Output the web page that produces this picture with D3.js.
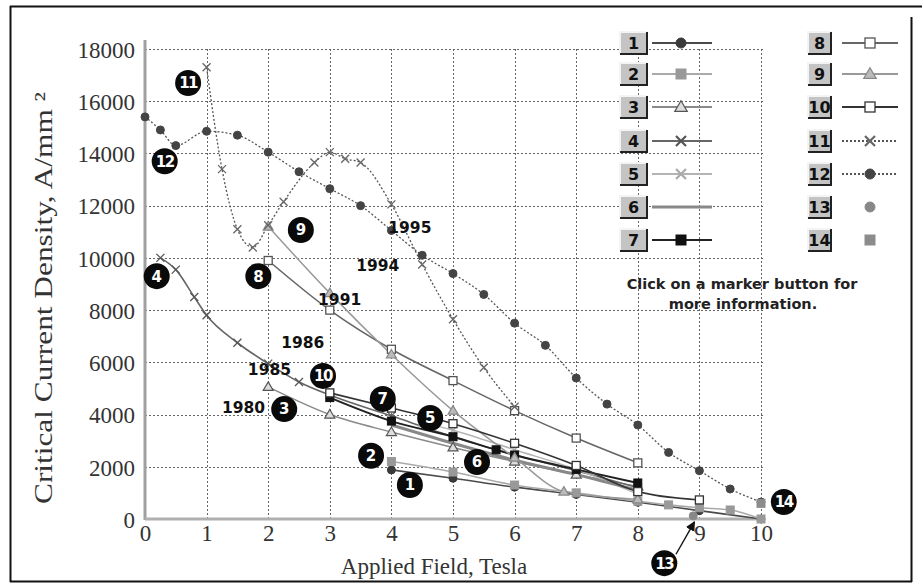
<!DOCTYPE html>
<html>
<head>
<style>
  body { margin: 0; background: #fff; }
  svg text { font-family: "Liberation Serif", "Times New Roman", serif; }
  .tick { font-size: 23px; fill: #333; }
  .title { font-size: 23px; fill: #333; }
  .year { font-family: "DejaVu Sans", sans-serif; font-weight: bold; font-size: 15.5px; fill: #111; }
  .note { font-family: "DejaVu Sans", sans-serif; font-weight: bold; font-size: 14.5px; fill: #222; }
  .btn { font-family: "DejaVu Sans", sans-serif; font-weight: bold; font-size: 16px; fill: #111; }
  .badge { font-family: "DejaVu Sans", sans-serif; font-weight: bold; font-size: 15px; fill: #fff; }
</style>
</head>
<body>
<div id="chart"></div>
<script src="https://cdnjs.cloudflare.com/ajax/libs/d3/7.8.5/d3.min.js"></script>
<script>
// tick values
const xTicks = [0, 1, 2, 3, 4, 5, 6, 7, 8, 9, 10];
const yTicks = [0, 2000, 4000, 6000, 8000, 10000, 12000, 14000, 16000, 18000];

// series values: [field (T), Jc (A/mm2)]
const series1 = [[4, 1880], [5, 1560], [6, 1220], [7, 940], [8, 640], [9, 320], [10, 0]];
const series2 = [[4, 2200], [5, 1800], [6, 1300], [7, 1000], [8, 680], [8.5, 540], [9, 430], [9.5, 345], [10, 0]];
const series3 = [[2, 5060], [3, 4000], [4, 3330], [5, 2740], [6, 2200], [7, 1700], [8, 1250]];
const series4 = [[0.25, 10000], [0.5, 9550], [0.8, 8500], [1, 7800], [1.5, 6750], [2, 5950], [2.5, 5250], [3, 4750], [4, 3950], [5, 3150], [6, 2450], [7, 1850], [8, 1200]];
const series5 = [[4.5, 3700], [5, 3400], [6, 2650], [7, 1900], [8, 950]];
const series6 = [[4, 3600], [5, 2900], [6, 2250], [7, 1700], [8, 1100]];
const series7 = [[3, 4650], [4, 3750], [5, 3150], [5.7, 2650], [6, 2450], [7, 1900], [8, 1380]];
const series8 = [[2, 9900], [3, 8000], [4, 6500], [5, 5300], [6, 4150], [7, 3100], [8, 2150]];
const series9 = [[2, 11200], [3, 8650], [4, 6300], [5, 4150], [6, 2350], [6.8, 1050], [8, 750]];
const series10 = [[3, 4830], [4, 4250], [5, 3650], [6, 2900], [7, 2050], [8, 1050], [9, 730]];
const series11 = [[1, 17300], [1.25, 13400], [1.5, 11100], [1.75, 10400], [2, 11250], [2.25, 12150], [2.75, 13650], [3, 14050], [3.25, 13800], [3.5, 13650], [4, 12050], [4.5, 9750], [5, 7650], [5.5, 5800], [6, 4300]];
const series12 = [[0, 15400], [0.25, 14900], [0.5, 14300], [1, 14850], [1.5, 14700], [2, 14050], [2.5, 13300], [3, 12650], [3.5, 12000], [4, 11050], [4.5, 10100], [5, 9400], [5.5, 8600], [6, 7500], [6.5, 6650], [7, 5400], [7.5, 4400], [8, 3600], [8.5, 2550], [9, 1850], [9.5, 1150], [10, 650]];
const series13 = [[8.9, 120]];
const series14 = [[10, 600]];

// numbered badges: [number, field, Jc]
const badges = [[1, 4.3, 1300], [2, 3.67, 2420], [3, 2.26, 4210], [4, 0.19, 9300], [5, 4.63, 3870], [6, 5.39, 2180],
  [7, 3.86, 4600], [8, 1.84, 9300], [9, 2.53, 11070], [10, 2.89, 5480], [11, 0.7, 16700], [12, 0.32, 13700],
  [13, 8.43, -1690], [14, 10.37, 650]];

// year notes: [text, field, Jc]
const years = [["1995", 4.3, 11150], ["1994", 3.78, 9700], ["1991", 3.16, 8400], ["1986", 2.56, 6750], ["1985", 2.02, 5700], ["1980", 1.6, 4250]];

const seriesList = [
  { id: 1, data: series1, stroke: "#4a4a4a", width: 1.6, marker: "circle", fill: "#3a3a3a", mstroke: "#3a3a3a" },
  { id: 2, data: series2, stroke: "#aaa", width: 1.6, marker: "square", fill: "#999", mstroke: "#999" },
  { id: 3, data: series3, stroke: "#8a8a8a", width: 1.5, marker: "triangle", fill: "#ddd", mstroke: "#555" },
  { id: 4, data: series4, stroke: "#666", width: 1.6, marker: "x", fill: "none", mstroke: "#555" },
  { id: 5, data: series5, stroke: "#b4b4b4", width: 1.5, marker: "x", fill: "none", mstroke: "#aaa" },
  { id: 6, data: series6, stroke: "#888", width: 3, marker: null },
  { id: 7, data: series7, stroke: "#222", width: 2, marker: "square", fill: "#111", mstroke: "#111" },
  { id: 8, data: series8, stroke: "#666", width: 1.6, marker: "squareOpen", fill: "#fff", mstroke: "#555" },
  { id: 9, data: series9, stroke: "#999", width: 1.5, marker: "triangle", fill: "#bbb", mstroke: "#888" },
  { id: 10, data: series10, stroke: "#333", width: 1.6, marker: "squareOpen", fill: "#fff", mstroke: "#333" },
  { id: 11, data: series11, stroke: "#555", width: 1.3, dash: "2,2", marker: "x", fill: "none", mstroke: "#666" },
  { id: 12, data: series12, stroke: "#555", width: 1.3, dash: "2,2", marker: "circle", fill: "#444", mstroke: "#444" },
  { id: 13, data: series13, stroke: null, marker: "circle", fill: "#888", mstroke: "#888" },
  { id: 14, data: series14, stroke: null, marker: "square", fill: "#8c8c8c", mstroke: "#8c8c8c" }
];

const W = 922, H = 586;
const svg = d3.select("#chart").append("svg").attr("width", W).attr("height", H);

// outer frame
svg.append("line").attr("x1", 10).attr("x2", 922).attr("y1", 6.5).attr("y2", 6.5).attr("stroke", "#111").attr("stroke-width", 2);
svg.append("line").attr("x1", 10.5).attr("x2", 10.5).attr("y1", 6).attr("y2", 582).attr("stroke", "#111").attr("stroke-width", 2);
svg.append("line").attr("x1", 911.5).attr("x2", 911.5).attr("y1", 17).attr("y2", 582).attr("stroke", "#111").attr("stroke-width", 2);
svg.append("line").attr("x1", 10).attr("x2", 912).attr("y1", 581.5).attr("y2", 581.5).attr("stroke", "#111").attr("stroke-width", 2);

const x = d3.scaleLinear().domain([0, 10]).range([145, 761]);
const y = d3.scaleLinear().domain([0, 18000]).range([519, 49]);

// grid
const grid = svg.append("g");
grid.selectAll(".hg").data(yTicks.slice(1)).join("line")
  .attr("x1", x(0)).attr("x2", x(10) + 2)
  .attr("y1", d => Math.round(y(d)) + 0.5).attr("y2", d => Math.round(y(d)) + 0.5)
  .attr("stroke", "#666").attr("stroke-width", 1).attr("stroke-dasharray", "2,2");
grid.selectAll(".vg").data(xTicks.slice(1)).join("line")
  .attr("x1", d => Math.round(x(d)) + 0.5).attr("x2", d => Math.round(x(d)) + 0.5)
  .attr("y1", y(18000)).attr("y2", y(0))
  .attr("stroke", "#666").attr("stroke-width", 1).attr("stroke-dasharray", "2,2");

// axes
const yAxis = d3.axisLeft(y).tickValues(yTicks).tickFormat(d3.format("d")).tickSize(0).tickPadding(10);
const yg = svg.append("g").attr("transform", `translate(${x(0)},0)`).call(yAxis);
yg.select(".domain").remove();
yg.selectAll("text").attr("class", "tick").attr("font-family", null).attr("font-size", null).attr("dy", "0.36em");

const xAxis = d3.axisBottom(x).tickValues(xTicks).tickSize(0).tickPadding(6);
const xg = svg.append("g").attr("transform", `translate(0,${y(0)})`).call(xAxis);
xg.select(".domain").remove();
xg.selectAll("text").attr("class", "tick").attr("font-family", null).attr("font-size", null);

svg.append("line").attr("x1", x(0)).attr("x2", x(0)).attr("y1", 40).attr("y2", y(0) + 1)
  .attr("stroke", "#a0a0a0").attr("stroke-width", 3);
svg.append("line").attr("x1", x(0)).attr("x2", x(10) + 4).attr("y1", y(0)).attr("y2", y(0))
  .attr("stroke", "#b0b0b0").attr("stroke-width", 3);

// axis titles
svg.append("text").attr("class", "title").attr("text-anchor", "middle")
  .attr("x", 434).attr("y", 574).text("Applied Field, Tesla");
svg.append("text").attr("class", "title").attr("text-anchor", "middle")
  .attr("transform", "translate(52,298) rotate(-90)")
  .style("font-size", "25px")
  .attr("textLength", 412).attr("lengthAdjust", "spacingAndGlyphs")
  .text("Critical Current Density, A/mm ²");

// marker shapes
function drawMarker(g, type, cx, cy, fill, stroke, big) {
  const k = big ? 1.25 : 1;
  if (type === "circle") {
    g.append("circle").attr("cx", cx).attr("cy", cy).attr("r", 4 * k).attr("fill", fill).attr("stroke", stroke);
  } else if (type === "square") {
    g.append("rect").attr("x", cx - 4 * k).attr("y", cy - 4 * k).attr("width", 8 * k).attr("height", 8 * k)
      .attr("fill", fill).attr("stroke", stroke);
  } else if (type === "squareOpen") {
    g.append("rect").attr("x", cx - 4 * k).attr("y", cy - 4 * k).attr("width", 8 * k).attr("height", 8 * k)
      .attr("fill", fill).attr("stroke", stroke).attr("stroke-width", 1.3);
  } else if (type === "triangle") {
    const r = 5 * k;
    g.append("path").attr("d", `M${cx},${cy - r}L${cx + r},${cy + r * 0.7}L${cx - r},${cy + r * 0.7}Z`)
      .attr("fill", fill).attr("stroke", stroke).attr("stroke-width", 1.2);
  } else if (type === "x") {
    const r = 4 * k;
    g.append("path").attr("d", `M${cx - r},${cy - r}L${cx + r},${cy + r}M${cx - r},${cy + r}L${cx + r},${cy - r}`)
      .attr("stroke", stroke).attr("stroke-width", big ? 2.2 : 1.3).attr("fill", "none");
  }
}

// series lines and markers
const line = d3.line().x(d => x(d[0])).y(d => y(d[1])).curve(d3.curveMonotoneX);
const plot = svg.append("g");
seriesList.forEach(s => {
  if (s.stroke && s.data.length > 1) {
    plot.append("path").datum(s.data).attr("d", line)
      .attr("fill", "none").attr("stroke", s.stroke).attr("stroke-width", s.width)
      .attr("stroke-dasharray", s.dash || null);
  }
});
seriesList.forEach(s => {
  if (!s.marker) return;
  s.data.forEach(d => drawMarker(plot, s.marker, x(d[0]), y(d[1]), s.fill, s.mstroke, false));
});

// legend buttons
const legendRows = [43, 74, 107, 141, 174, 207, 240];
const legend = svg.append("g");
seriesList.forEach((s, i) => {
  const col = i < 7 ? 0 : 1;
  const cy = legendRows[i % 7];
  const bx = col === 0 ? 620 : 808;
  const bw = col === 0 ? 27 : 23;
  const bh = 22;
  const by = cy - bh / 2;
  legend.append("rect").attr("x", bx).attr("y", by).attr("width", bw).attr("height", bh).attr("fill", "#c4c4c4");
  legend.append("path").attr("d", `M${bx},${by + bh}V${by}H${bx + bw}`).attr("stroke", "#f4f4f4").attr("stroke-width", 2).attr("fill", "none");
  legend.append("path").attr("d", `M${bx},${by + bh}H${bx + bw}V${by}`).attr("stroke", "#222").attr("stroke-width", 2).attr("fill", "none");
  legend.append("text").attr("class", "btn").attr("text-anchor", "middle")
    .attr("x", bx + bw / 2).attr("y", cy + 6).text(s.id);
  const lx1 = col === 0 ? 652 : 842;
  const lx2 = col === 0 ? 712 : 898;
  const mx = col === 0 ? 681 : 870;
  if (s.stroke) {
    legend.append("line").attr("x1", lx1).attr("x2", lx2).attr("y1", cy).attr("y2", cy)
      .attr("stroke", s.stroke).attr("stroke-width", s.id === 6 ? 3 : 1.8)
      .attr("stroke-dasharray", s.dash || null);
  }
  if (s.marker) drawMarker(legend, s.marker, mx, cy, s.fill, s.mstroke, true);
});

svg.append("text").attr("class", "note").attr("text-anchor", "middle").attr("x", 742).attr("y", 289).text("Click on a marker button for");
svg.append("text").attr("class", "note").attr("text-anchor", "middle").attr("x", 743).attr("y", 309).text("more information.");

// year notes
svg.selectAll(".year").data(years).join("text").attr("class", "year").attr("text-anchor", "middle")
  .attr("x", d => x(d[1])).attr("y", d => y(d[2]) + 5).text(d => d[0]);

// arrow for badge 13
svg.append("defs").append("marker").attr("id", "ah").attr("viewBox", "0 0 10 10")
  .attr("refX", 9).attr("refY", 5).attr("markerWidth", 7).attr("markerHeight", 7).attr("orient", "auto")
  .append("path").attr("d", "M0,0L10,5L0,10Z").attr("fill", "#111");
svg.append("line").attr("x1", x(8.62)).attr("y1", y(-1350)).attr("x2", x(8.92)).attr("y2", y(-110))
  .attr("stroke", "#111").attr("stroke-width", 1.4).attr("marker-end", "url(#ah)");

// numbered badges
const bg = svg.selectAll(".badge-g").data(badges).join("g")
  .attr("transform", d => `translate(${x(d[1])},${y(d[2])})`);
bg.append("circle").attr("r", 13).attr("fill", "#0a0a0a");
bg.append("text").attr("class", "badge").attr("text-anchor", "middle").attr("dy", "0.36em")
  .attr("letter-spacing", d => d[0] > 9 ? -1.5 : 0).text(d => d[0]);
</script>
</body>
</html>
